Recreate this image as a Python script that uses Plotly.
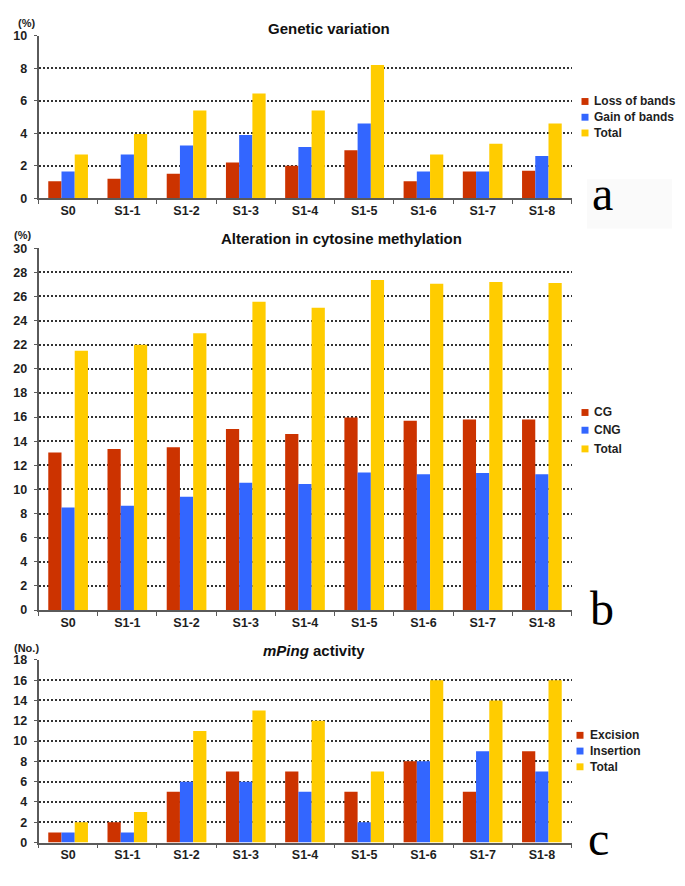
import plotly.graph_objects as go

# ---------------- data ----------------
categories = ["S0", "S1-1", "S1-2", "S1-3", "S1-4", "S1-5", "S1-6", "S1-7", "S1-8"]

gen_loss = [1.05, 1.2, 1.5, 2.2, 2.0, 2.95, 1.05, 1.65, 1.7]
gen_gain = [1.65, 2.7, 3.25, 3.9, 3.15, 4.6, 1.65, 1.65, 2.6]
gen_total = [2.7, 3.95, 5.4, 6.45, 5.4, 8.2, 2.7, 3.35, 4.6]

meth_cg = [13.05, 13.35, 13.5, 15.0, 14.6, 15.95, 15.7, 15.8, 15.8]
meth_cng = [8.5, 8.65, 9.4, 10.55, 10.45, 11.4, 11.25, 11.35, 11.25]
meth_total = [21.5, 22.0, 22.95, 25.55, 25.05, 27.35, 27.05, 27.2, 27.1]

mping_exc = [1, 2, 5, 7, 7, 5, 8, 5, 9]
mping_ins = [1, 1, 6, 6, 5, 2, 8, 9, 7]
mping_total = [2, 3, 11, 13, 12, 7, 16, 14, 16]

names_a = ["Loss of bands", "Gain of bands", "Total"]
names_b = ["CG", "CNG", "Total"]
names_c = ["Excision", "Insertion", "Total"]

titles = ["<b>Genetic variation</b>",
          "<b>Alteration in cytosine methylation</b>",
          "<b><i>mPing</i> activity</b>"]
units = ["<b>(%)</b>", "<b>(%)</b>", "<b>(No.)</b>"]
letters = ["a", "b", "c"]

colors = ["#CC3300", "#3366FF", "#FFCC00"]

# ---------------- layout helpers ----------------
W, H = 685, 886
FONT = "Liberation Sans, Arial, sans-serif"
TXT = "#1e1e1e"


def px(x):
    return x / W


def py(y):
    return 1 - y / H


panels = [
    dict(series=[gen_loss, gen_gain, gen_total], names=names_a, rng=[0, 10], top=29.3, bot=194.3,
         title_xy=(329, 21.5), unit_xy=(26, 16), letter_xy=(602, 189),
         leg_sq=585, leg_tx=592, leg_y=[96, 112, 128]),
    dict(series=[meth_cg, meth_cng, meth_total], names=names_b, rng=[0, 30], top=245, bot=612.7,
         title_xy=(341, 235), unit_xy=(22, 232), letter_xy=(602, 611),
         leg_sq=585, leg_tx=592, leg_y=[412, 430, 449]),
    dict(series=[mping_exc, mping_ins, mping_total], names=names_c, rng=[0, 18], top=663.3, bot=849,
         title_xy=(314, 654), unit_xy=(26, 651), letter_xy=(598, 845),
         leg_sq=580, leg_tx=588, leg_y=[740, 756, 772]),
]

X0, X1 = 38.5, 571.5

fig = go.Figure()
annotations = []
shapes = []

# faint box behind panel letter "a"
shapes.append(dict(type="rect", xref="paper", yref="paper", x0=px(587), x1=px(672),
                   y0=py(225), y1=py(175), fillcolor="#fafafa", line=dict(width=0), layer="below"))

for i, p in enumerate(panels):
    sfx = "" if i == 0 else str(i + 1)
    for k in range(3):
        fig.add_trace(go.Bar(
            x=categories, y=p["series"][k], name=p["names"][k],
            marker=dict(color=colors[k], line=dict(width=0)),
            xaxis="x" + sfx, yaxis="y" + sfx, showlegend=False,
        ))
    fig.layout["xaxis" + sfx] = dict(
        domain=[px(X0), px(X1)], anchor="y" + sfx, type="category",
        showline=True, linecolor="#5a5a5a", linewidth=1.6,
        ticks="outside", tickson="boundaries", ticklen=4, tickwidth=1.4, tickcolor="#5a5a5a",
        showgrid=False, zeroline=False,
        tickfont=dict(family=FONT, size=12.5, color=TXT, weight="bold"),
    )
    fig.layout["yaxis" + sfx] = dict(
        domain=[py(p["bot"]), py(p["top"])], anchor="x" + sfx, range=p["rng"], dtick=2,
        showline=True, linecolor="#5a5a5a", linewidth=1.6,
        ticks="outside", ticklen=3, tickwidth=1.4, tickcolor="#5a5a5a",
        ticklabelstandoff=4,
        showgrid=True, gridcolor="#333333", gridwidth=1.6, griddash="2px,2px",
        zeroline=False,
        tickfont=dict(family=FONT, size=12.5, color=TXT, weight="bold"),
    )
    annotations.append(dict(text=titles[i], x=px(p["title_xy"][0]), y=py(p["title_xy"][1]),
                            xref="paper", yref="paper", showarrow=False, xanchor="center", yanchor="middle",
                            font=dict(family=FONT, size=15, color="#111111")))
    annotations.append(dict(text=units[i], x=px(p["unit_xy"][0]), y=py(p["unit_xy"][1]),
                            xref="paper", yref="paper", showarrow=False, xanchor="center", yanchor="middle",
                            font=dict(family=FONT, size=11, color=TXT)))
    annotations.append(dict(text=letters[i], x=px(p["letter_xy"][0]), y=py(p["letter_xy"][1]),
                            xref="paper", yref="paper", showarrow=False, xanchor="center", yanchor="middle",
                            font=dict(family="Liberation Serif, Times New Roman, serif", size=48, color="#000000")))
    for k in range(3):
        cy = p["leg_y"][k]
        shapes.append(dict(type="rect", xref="paper", yref="paper",
                           x0=px(p["leg_sq"] - 3.5), x1=px(p["leg_sq"] + 3.5),
                           y0=py(cy + 3.5), y1=py(cy - 3.5),
                           fillcolor=colors[k], line=dict(width=0)))
        annotations.append(dict(text="<b>" + p["names"][k] + "</b>", x=px(p["leg_tx"]), y=py(cy),
                                xref="paper", yref="paper", showarrow=False, xanchor="left", yanchor="middle",
                                font=dict(family=FONT, size=12, color=TXT)))

fig.update_layout(
    width=W, height=H, autosize=False,
    margin=dict(l=0, r=0, t=0, b=0),
    paper_bgcolor="white", plot_bgcolor="white",
    barmode="group", bargap=0.33, bargroupgap=0,
    annotations=annotations, shapes=shapes,
    showlegend=False,
)

fig.write_html("out.html",
               config={"displayModeBar": False},
               post_script="document.body.style.margin='0';document.body.style.padding='0';")
